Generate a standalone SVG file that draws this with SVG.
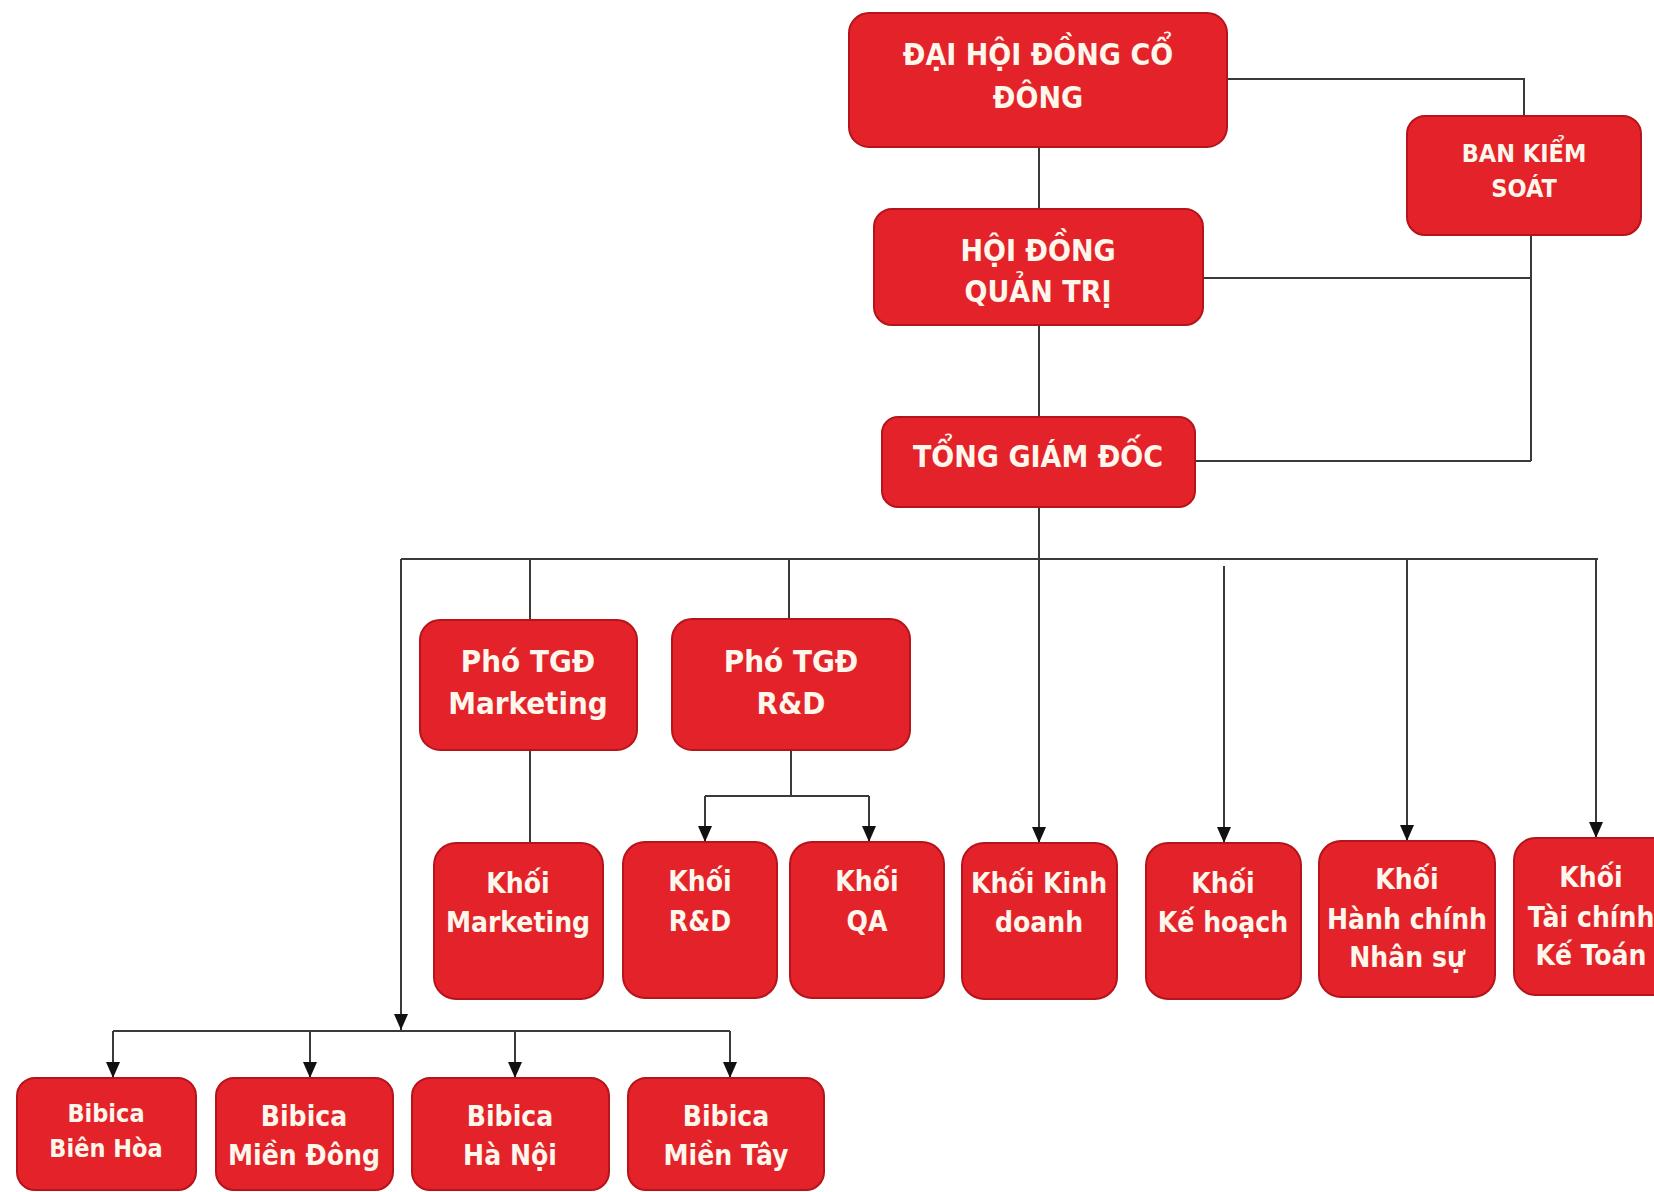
<svg xmlns="http://www.w3.org/2000/svg" width="1654" height="1192" viewBox="0 0 1654 1192">
<defs>
<style>
.box{fill:#E3222A;stroke:#B5141B;stroke-width:2}
.t{fill:#FFF6EC;font-family:"DejaVu Sans Condensed","Liberation Sans Narrow","Liberation Sans",sans-serif;font-weight:bold;text-anchor:middle}
.l{fill:none;stroke:#3a3a3a;stroke-width:2}
</style>
<marker id="arrd" viewBox="0 0 16 14" refX="16" refY="7" markerWidth="16" markerHeight="14" orient="auto" markerUnits="userSpaceOnUse">
<path d="M0,0 L16,7 L0,14 Z" fill="#111"/>
</marker>
</defs>
<rect width="1654" height="1192" fill="#ffffff"/>
<g id="connectors">
<path class="l" d="M1039,147 V209"/>
<path class="l" d="M1039,325 V417"/>
<path class="l" d="M1039,507 V843" marker-end="url(#arrd)"/>
<path class="l" d="M1227,79 H1524 V116"/>
<path class="l" d="M1531,235 V461"/>
<path class="l" d="M1203,278 H1531"/>
<path class="l" d="M1195,461 H1531"/>
<path class="l" d="M401,559 H1598"/>
<path class="l" d="M530,559 V620"/>
<path class="l" d="M789,559 V619"/>
<path class="l" d="M1224,566 V843" marker-end="url(#arrd)"/>
<path class="l" d="M1407,559 V841" marker-end="url(#arrd)"/>
<path class="l" d="M1596,559 V838" marker-end="url(#arrd)"/>
<path class="l" d="M401,559 V1030" marker-end="url(#arrd)"/>
<path class="l" d="M530,750 V843"/>
<path class="l" d="M791,750 V796"/>
<path class="l" d="M705,796 H869"/>
<path class="l" d="M705,796 V842" marker-end="url(#arrd)"/>
<path class="l" d="M869,796 V842" marker-end="url(#arrd)"/>
<path class="l" d="M113,1031 H730"/>
<path class="l" d="M113,1031 V1078" marker-end="url(#arrd)"/>
<path class="l" d="M310,1031 V1078" marker-end="url(#arrd)"/>
<path class="l" d="M515,1031 V1078" marker-end="url(#arrd)"/>
<path class="l" d="M730,1031 V1078" marker-end="url(#arrd)"/>
</g>
<g id="dhdcd"><rect class="box" x="849" y="13" width="378" height="134" rx="20"/>
<text class="t" x="1038" y="65" font-size="30">ĐẠI HỘI ĐỒNG CỔ</text>
<text class="t" x="1038" y="108" font-size="30">ĐÔNG</text></g>
<g id="bks"><rect class="box" x="1407" y="116" width="234" height="119" rx="18"/>
<text class="t" x="1524" y="162" font-size="25">BAN KIỂM</text>
<text class="t" x="1524" y="197" font-size="25">SOÁT</text></g>
<g id="hdqt"><rect class="box" x="874" y="209" width="329" height="116" rx="18"/>
<text class="t" x="1038" y="261" font-size="30">HỘI ĐỒNG</text>
<text class="t" x="1038" y="302" font-size="30">QUẢN TRỊ</text></g>
<g id="tgd"><rect class="box" x="882" y="417" width="313" height="90" rx="16"/>
<text class="t" x="1038" y="467" font-size="30">TỔNG GIÁM ĐỐC</text></g>
<g id="ptgd-mkt"><rect class="box" x="420" y="620" width="217" height="130" rx="20"/>
<text class="t" x="528" y="672" font-size="31">Phó TGĐ</text>
<text class="t" x="528" y="714" font-size="31">Marketing</text></g>
<g id="ptgd-rd"><rect class="box" x="672" y="619" width="238" height="131" rx="20"/>
<text class="t" x="791" y="672" font-size="31">Phó TGĐ</text>
<text class="t" x="791" y="714" font-size="31">R&amp;D</text></g>
<g id="khoi-mkt"><rect class="box" x="434" y="843" width="169" height="156" rx="22"/>
<text class="t" x="518" y="893" font-size="28">Khối</text>
<text class="t" x="518" y="932" font-size="28">Marketing</text></g>
<g id="khoi-rd"><rect class="box" x="623" y="842" width="154" height="156" rx="22"/>
<text class="t" x="700" y="891" font-size="28">Khối</text>
<text class="t" x="700" y="931" font-size="28">R&amp;D</text></g>
<g id="khoi-qa"><rect class="box" x="790" y="842" width="154" height="156" rx="22"/>
<text class="t" x="867" y="891" font-size="28">Khối</text>
<text class="t" x="867" y="931" font-size="28">QA</text></g>
<g id="khoi-kd"><rect class="box" x="962" y="843" width="155" height="156" rx="22"/>
<text class="t" x="1039" y="893" font-size="28">Khối Kinh</text>
<text class="t" x="1039" y="932" font-size="28">doanh</text></g>
<g id="khoi-kh"><rect class="box" x="1146" y="843" width="155" height="156" rx="22"/>
<text class="t" x="1223" y="893" font-size="28">Khối</text>
<text class="t" x="1223" y="932" font-size="28">Kế hoạch</text></g>
<g id="khoi-hcns"><rect class="box" x="1319" y="841" width="176" height="156" rx="22"/>
<text class="t" x="1407" y="889" font-size="28">Khối</text>
<text class="t" x="1407" y="929" font-size="28">Hành chính</text>
<text class="t" x="1407" y="967" font-size="28">Nhân sự</text></g>
<g id="khoi-tckt"><rect class="box" x="1514" y="838" width="160" height="157" rx="22"/>
<text class="t" x="1591" y="887" font-size="28">Khối</text>
<text class="t" x="1591" y="927" font-size="28">Tài chính</text>
<text class="t" x="1591" y="965" font-size="28">Kế Toán</text></g>
<g id="bibica-bh"><rect class="box" x="17" y="1078" width="179" height="112" rx="18"/>
<text class="t" x="106" y="1122" font-size="25">Bibica</text>
<text class="t" x="106" y="1157" font-size="25">Biên Hòa</text></g>
<g id="bibica-md"><rect class="box" x="216" y="1078" width="177" height="112" rx="18"/>
<text class="t" x="304" y="1126" font-size="28">Bibica</text>
<text class="t" x="304" y="1165" font-size="28">Miền Đông</text></g>
<g id="bibica-hn"><rect class="box" x="412" y="1078" width="197" height="112" rx="18"/>
<text class="t" x="510" y="1126" font-size="28">Bibica</text>
<text class="t" x="510" y="1165" font-size="28">Hà Nội</text></g>
<g id="bibica-mt"><rect class="box" x="628" y="1078" width="196" height="112" rx="18"/>
<text class="t" x="726" y="1126" font-size="28">Bibica</text>
<text class="t" x="726" y="1165" font-size="28">Miền Tây</text></g>
</svg>
